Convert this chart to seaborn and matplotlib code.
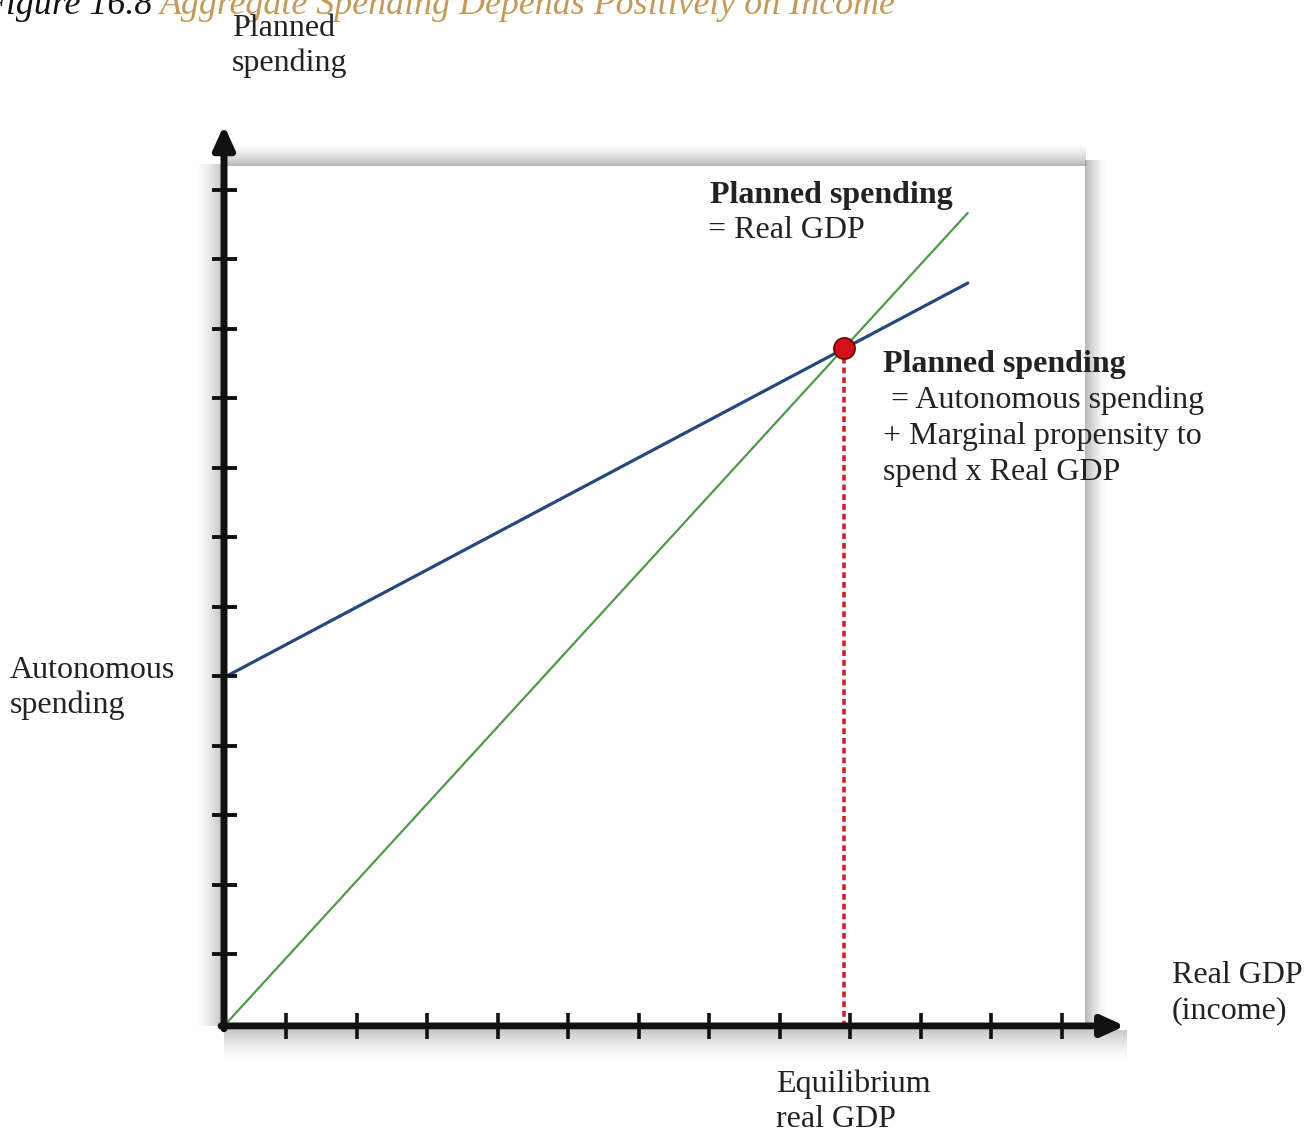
import numpy as np
import seaborn as sns
import matplotlib.pyplot as plt

# données (unités = pas des graduations)
green_x = [0.0, 10.55]
green_y = [0.0, 11.70]
blue_x = [0.03, 10.55]
blue_y = [5.03, 10.69]
eq_x = [8.79]
eq_y = [9.76]
x_ticks = [0.88, 1.88, 2.88, 3.88, 4.88, 5.88, 6.88, 7.88, 8.88, 9.88, 10.88, 11.88]
y_ticks = [1.03, 2.03, 3.03, 4.03, 5.03, 6.03, 7.03, 8.03, 9.03, 10.03, 11.03, 12.03]
x_axis_end = 12.78
y_axis_end = 12.96

W, H = 1304, 1133
TXT = "#222222"

sns.set_theme(style="white")
plt.rcParams["font.family"] = ["Liberation Serif", "DejaVu Serif"]

fig = plt.figure(figsize=(W / 100, H / 100), dpi=100)
ax = fig.add_axes([0, 0, 1, 1])
ax.set_xlim(-3.177, 15.319)
ax.set_ylim(-1.540, 14.763)
ax.axis("off")


def shade(x0, x1, y0, y1, vertical, dark_at_start, strength=0.55, n=60):
    """
        Dégradé gris pour imiter l'ombre portée du panneau
    """
    a = np.linspace(strength, 0, n) ** 1.4
    if not dark_at_start:
        a = a[::-1]
    rgba = np.zeros((n, 1, 4)) if vertical else np.zeros((1, n, 4))
    rgba[..., :3] = 0.35
    if vertical:
        rgba[:, 0, 3] = a[::-1]
    else:
        rgba[0, :, 3] = a
    ax.imshow(rgba, extent=(x0, x1, y0, y1), aspect="auto",
              interpolation="bilinear", zorder=0, origin="upper")


# ombres du panneau
shade(0.0, 12.22, 12.38, 12.70, True, True)      # bord haut
shade(12.21, 12.52, 0.0, 12.45, False, True)     # bord droit
shade(-0.40, -0.05, 0.0, 12.4, False, False, 0.45)  # gauche de l'axe y
shade(0.0, 12.8, -0.50, -0.06, True, False, 0.45)   # sous l'axe x

# courbes
sns.lineplot(x=green_x, y=green_y, ax=ax, color="#4f9a48", linewidth=1.6, zorder=3)
sns.lineplot(x=blue_x, y=blue_y, ax=ax, color="#25487f", linewidth=2.3, zorder=3)

# pointillés rouges jusqu'à l'axe des x
ax.plot([eq_x[0], eq_x[0]], [eq_y[0], 0], color="#d0202a", linewidth=2.6,
        linestyle=(0, (1.6, 1.1)), zorder=2)
sns.scatterplot(x=eq_x, y=eq_y, ax=ax, s=230, color="#d0101a",
                edgecolor="#7a0000", linewidth=1.3, zorder=5)

# axes avec flèches
arrow = dict(arrowstyle="-|>,head_length=0.55,head_width=0.25", lw=5,
             color="#111111", mutation_scale=25, shrinkA=0, shrinkB=0)
ax.annotate("", xy=(0, y_axis_end), xytext=(0, -0.04), arrowprops=arrow, zorder=4)
ax.annotate("", xy=(x_axis_end, 0), xytext=(-0.04, 0), arrowprops=arrow, zorder=4)

# graduations
ax.plot(x_ticks, [0] * len(x_ticks), linestyle="none", marker="|",
        markersize=19, markeredgewidth=2.6, color="#111111", zorder=4)
ax.plot([0] * len(y_ticks), y_ticks, linestyle="none", marker="_",
        markersize=18, markeredgewidth=2.8, color="#111111", zorder=4)


def label(px, py, s, weight="normal", size=23, color=TXT, style="normal"):
    ax.text(px / W, 1 - py / H, s, transform=ax.transAxes, ha="left",
            va="baseline", fontsize=size, color=color, fontweight=weight,
            fontstyle=style)


# titre coupé en haut
label(-16, 14, "Figure 16.8", size=25.8, color="#111111", style="italic")
label(160, 14, "Aggregate Spending Depends Positively on Income", size=25.8,
      color="#c39a5c", style="italic")

label(232, 36, "Planned")
label(232, 71, "spending")
label(10, 678, "Autonomous")
label(10, 713, "spending")
label(710, 203, "Planned spending", weight="bold")
label(708, 238, "= Real GDP")
label(883, 372, "Planned spending", weight="bold")
label(883, 408, " = Autonomous spending")
label(883, 444, "+ Marginal propensity to")
label(883, 480, "spend x Real GDP")
label(1172, 983, "Real GDP")
label(1172, 1018, "(income)")
label(776, 1092, "Equilibrium")
label(776, 1127, "real GDP")

fig.savefig("out.png", dpi=100, facecolor="white")
